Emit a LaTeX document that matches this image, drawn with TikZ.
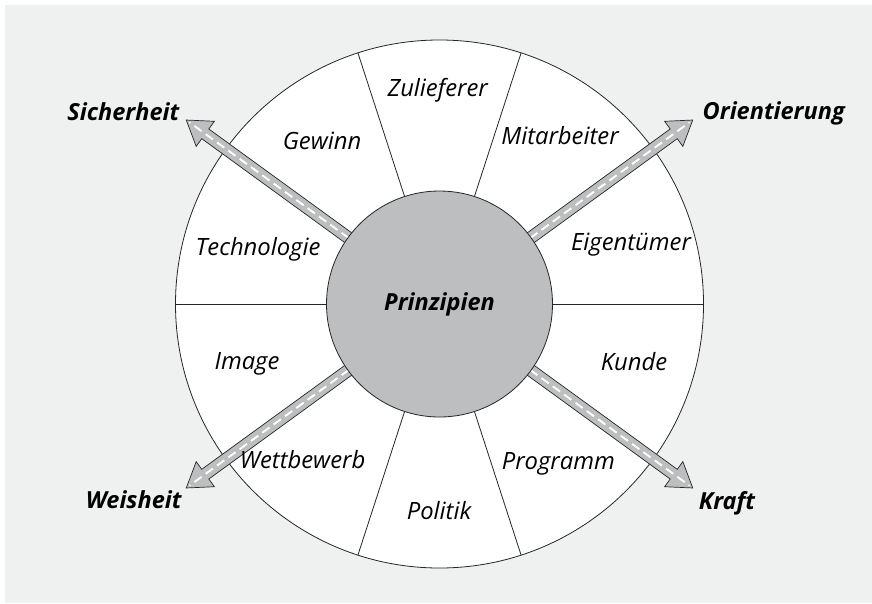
\documentclass[tikz,border=0pt]{standalone}
\usepackage{fontspec}
\setmainfont{Open Sans}
\usetikzlibrary{calc}
\definecolor{bggray}{HTML}{EFF0F0}
\definecolor{hubgray}{HTML}{BDBEC0}

% one broad arrow leaving the hub at angle #1
\newcommand\keyarrow[1]{%
  \begin{scope}[shift={(c)}, rotate=#1]
    \filldraw[arrowbody] (0,-6) -- (289.5,-6) -- (289.5,-15.5) -- (313,0)
      -- (289.5,15.5) -- (289.5,6) -- (0,6) -- cycle;
    \draw[arrowdash] (0,0) -- (309,0);
  \end{scope}}

\begin{document}
\begin{tikzpicture}[x=1pt,y=-1pt,
  ring/.style={draw=black!85, line width=0.8pt},
  arrowbody/.style={fill=hubgray, draw=black!85, line width=0.7pt, line join=miter},
  arrowdash/.style={white, line width=1.9pt, dash pattern=on 9pt off 5pt},
  seglabel/.style={font=\fontsize{23.8}{24}\selectfont\itshape, anchor=base, inner sep=0pt},
  keylabel/.style={font=\fontsize{23.5}{24}\selectfont\bfseries\itshape, anchor=base, inner sep=0pt}]
\useasboundingbox (0,0) rectangle (872,603);
\fill[bggray] (5,5) rectangle (872,603);

\coordinate (c) at (439.5,304);

% outer wheel and its spokes
\filldraw[fill=white, ring] (c) circle[radius=264];
\foreach \a in {0,72,108,180,252,288}
  \draw[ring] ($(c)+(\a:113)$) -- ($(c)+(\a:264)$);

% the four arrows
\keyarrow{36}
\keyarrow{144}
\keyarrow{216}
\keyarrow{324}

\coordinate (tipNE) at ($(c)+(36:313)$);
\coordinate (tipNW) at ($(c)+(144:313)$);
\coordinate (tipSW) at ($(c)+(216:313)$);
\coordinate (tipSE) at ($(c)+(324:313)$);

% hub
\node[circle, fill=hubgray, ring, minimum size=226pt, inner sep=0pt,
      font=\fontsize{23.5}{24}\selectfont\bfseries\itshape] (hub) at (c) {Prinzipien};

% segment labels
\node[seglabel] (zul) at (437.7,96) {Zulieferer};
\node[seglabel] (gew) at (322,149.3) {Gewinn};
\node[seglabel] (tec) at (258,255) {Technologie};
\node[seglabel] (mit) at (560,144) {Mitarbeiter};
\node[seglabel] (eig) at (631,250.7) {Eigentümer};
\node[seglabel] (img) at (247,369) {Image};
\node[seglabel] (kun) at (634,370) {Kunde};
\node[seglabel] (wet) at (302.5,468.3) {Wettbewerb};
\node[seglabel] (pol) at (439,519.3) {Politik};
\node[seglabel] (pro) at (558.3,469.3) {Programm};

% arrow labels
\node[keylabel] (sic) at (123.3,120) {Sicherheit};
\node[keylabel] (ori) at (773.7,119) {Orientierung};
\node[keylabel] (wei) at (133.7,508.3) {Weisheit};
\node[keylabel] (kra) at (727,509.3) {Kraft};
\end{tikzpicture}
\end{document}
